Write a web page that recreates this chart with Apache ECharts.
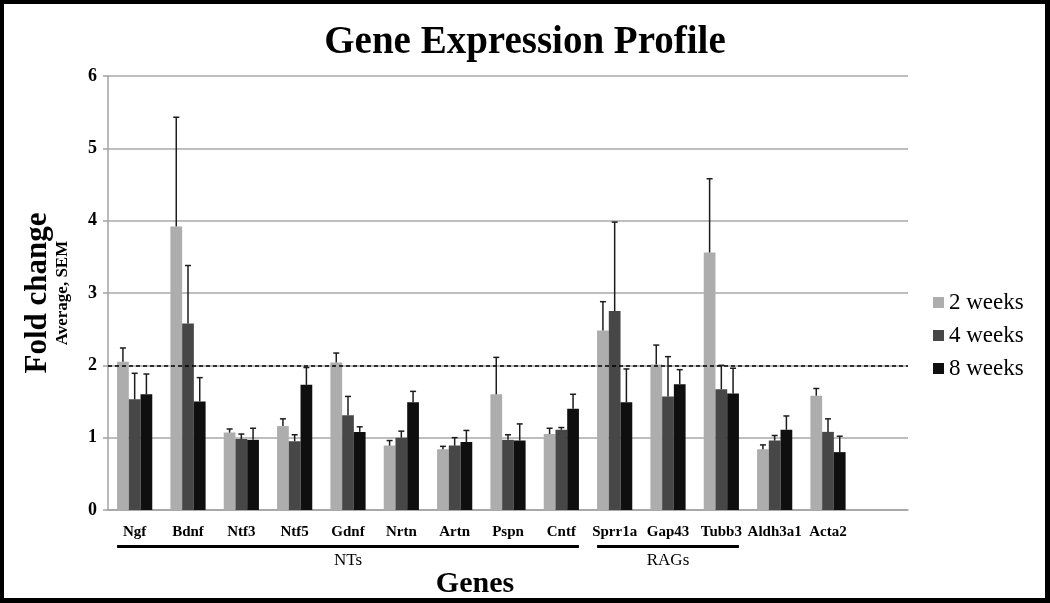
<!DOCTYPE html>
<html>
<head>
<meta charset="utf-8">
<title>Gene Expression Profile</title>
<script src="https://cdn.jsdelivr.net/npm/echarts@6.0.0/dist/echarts.min.js"></script>
<style>
  html, body { margin: 0; padding: 0; background: #fff; }
  #bar-chart { width: 1050px; height: 603px; }
</style>
</head>
<body>
<div id="bar-chart"></div>
<script>
// genes on the x axis
var genes = ['Ngf', 'Bdnf', 'Ntf3', 'Ntf5', 'Gdnf', 'Nrtn', 'Artn', 'Pspn', 'Cntf',
  'Sprr1a', 'Gap43', 'Tubb3', 'Aldh3a1', 'Acta2']
var seriesNames = ['2 weeks', '4 weeks', '8 weeks']
var yTicks = [0, 1, 2, 3, 4, 5, 6]

// fold change averages
var week2 = [2.05, 3.92, 1.07, 1.16, 2.04, 0.89, 0.84, 1.60, 1.05, 2.48, 2.01, 3.56, 0.84, 1.58]
var week4 = [1.53, 2.58, 0.98, 0.95, 1.31, 1.00, 0.89, 0.97, 1.11, 2.75, 1.57, 1.67, 0.96, 1.08]
var week8 = [1.60, 1.50, 0.97, 1.73, 1.08, 1.49, 0.94, 0.96, 1.40, 1.49, 1.74, 1.61, 1.11, 0.80]

// SEM (upper error bar only)
var sem2 = [0.19, 1.51, 0.05, 0.10, 0.13, 0.07, 0.04, 0.51, 0.08, 0.40, 0.27, 1.02, 0.06, 0.10]
var sem4 = [0.36, 0.80, 0.07, 0.09, 0.26, 0.09, 0.11, 0.07, 0.03, 1.23, 0.55, 0.33, 0.07, 0.18]
var sem8 = [0.28, 0.33, 0.16, 0.24, 0.07, 0.15, 0.16, 0.23, 0.20, 0.46, 0.20, 0.35, 0.19, 0.22]

// groups underlined below the labels
var groups = [
  { name: 'NTs', from: 'Ngf', to: 'Cntf' },
  { name: 'RAGs', from: 'Sprr1a', to: 'Tubb3' }
]

var colors = ['#adadad', '#474747', '#0f0f0f']
var serif = '"Liberation Serif", "Times New Roman", serif'
var gapRatio = 0.34

var chart = echarts.init(document.getElementById('bar-chart'))

function errorSeries(idx, values, sems) {
  return {
    type: 'custom',
    name: seriesNames[idx] + ' SEM',
    z: 5,
    silent: true,
    renderItem: function (params, api) {
      var cat = api.value(0)
      var val = api.value(1)
      var top = val + api.value(2)
      var bw = api.size([1, 0])[0] * (1 - gapRatio) / 3
      var p0 = api.coord([cat, val])
      var p1 = api.coord([cat, top])
      var x = p0[0] + (idx - 1) * bw
      var style = { stroke: '#1c1c1c', lineWidth: 1.5 }
      return {
        type: 'group',
        children: [
          { type: 'line', shape: { x1: x, y1: p0[1], x2: x, y2: p1[1] }, style: style },
          { type: 'line', shape: { x1: x - 3, y1: p1[1], x2: x + 3, y2: p1[1] }, style: style }
        ]
      }
    },
    data: values.map(function (v, i) { return [i, v, sems[i]] })
  }
}

function barSeries(idx, values) {
  var s = {
    type: 'bar',
    name: seriesNames[idx],
    barGap: 0,
    barCategoryGap: (gapRatio * 100) + '%',
    itemStyle: { color: colors[idx] },
    data: values
  }
  if (idx === 0) {
    s.markLine = {
      silent: true,
      symbol: ['none', 'none'],
      label: { show: false },
      lineStyle: { color: '#000', type: [4, 3], width: 1.5 },
      data: [{ yAxis: 2 }]
    }
  }
  return s
}

chart.setOption({
  animation: false,
  title: {
    text: 'Gene Expression Profile',
    left: 'center',
    top: 18,
    textStyle: { fontFamily: serif, fontWeight: 'bold', fontSize: 39, color: '#000' }
  },
  legend: {
    data: seriesNames,
    orient: 'vertical',
    left: 928,
    top: 286,
    icon: 'rect',
    itemWidth: 11,
    itemHeight: 11,
    itemGap: 10,
    textStyle: { fontFamily: serif, fontSize: 23, color: '#000' }
  },
  grid: { left: 108, right: 142, top: 76, bottom: 93 },
  xAxis: {
    type: 'category',
    // one empty slot keeps the gap at the right of the plot
    data: genes.concat(['']),
    axisTick: { show: false },
    axisLine: { lineStyle: { color: '#a3a3a3', width: 1.5 } },
    axisLabel: {
      interval: 0,
      margin: 15,
      fontFamily: serif,
      fontWeight: 'bold',
      fontSize: 15,
      color: '#000'
    }
  },
  yAxis: {
    type: 'value',
    min: yTicks[0],
    max: yTicks[yTicks.length - 1],
    interval: 1,
    name: '{a|Fold change}\n{b|Average, SEM}',
    nameLocation: 'middle',
    nameGap: 36,
    nameTextStyle: {
      rich: {
        a: { fontFamily: serif, fontWeight: 'bold', fontSize: 31, lineHeight: 32, color: '#000' },
        b: { fontFamily: serif, fontWeight: 'bold', fontSize: 17, lineHeight: 18, color: '#000' }
      }
    },
    axisLine: { show: true, lineStyle: { color: '#a3a3a3', width: 1.5 } },
    axisTick: { show: true, length: 5, lineStyle: { color: '#a3a3a3', width: 1.5 } },
    splitLine: { lineStyle: { color: '#a8a8a8', width: 1.5 } },
    axisLabel: {
      margin: 11,
      fontFamily: serif,
      fontWeight: 'bold',
      fontSize: 18,
      color: '#000'
    }
  },
  series: [
    barSeries(0, week2),
    barSeries(1, week4),
    barSeries(2, week8),
    errorSeries(0, week2, sem2),
    errorSeries(1, week4, sem4),
    errorSeries(2, week8, sem8)
  ]
})

// underlines for gene groups, axis name and frame
function drawExtras() {
  var x0 = chart.convertToPixel({ xAxisIndex: 0 }, genes[0])
  var x1 = chart.convertToPixel({ xAxisIndex: 0 }, genes[1])
  var half = (x1 - x0) * (1 - gapRatio) / 2
  var elements = []
  groups.forEach(function (g, i) {
    var a = chart.convertToPixel({ xAxisIndex: 0 }, g.from) - half
    var b = chart.convertToPixel({ xAxisIndex: 0 }, g.to) + half
    elements.push({
      type: 'rect', id: 'line' + i, silent: true,
      shape: { x: a, y: 545, width: b - a, height: 3 },
      style: { fill: '#000' }
    })
    elements.push({
      type: 'text', id: 'grp' + i, silent: true,
      x: (a + b) / 2, y: 561,
      style: {
        text: g.name, fontFamily: serif, fontSize: 17, fill: '#000',
        align: 'center', verticalAlign: 'middle'
      }
    })
  })
  elements.push({
    type: 'text', id: 'genes', silent: true,
    x: 475, y: 584,
    style: {
      text: 'Genes', fontFamily: serif, fontWeight: 'bold', fontSize: 30, fill: '#000',
      align: 'center', verticalAlign: 'middle'
    }
  })
  // black frame
  elements.push({ type: 'rect', id: 'fT', shape: { x: 0, y: 0, width: 1050, height: 4 }, style: { fill: '#000' } })
  elements.push({ type: 'rect', id: 'fB', shape: { x: 0, y: 598, width: 1050, height: 5 }, style: { fill: '#000' } })
  elements.push({ type: 'rect', id: 'fL', shape: { x: 0, y: 0, width: 4, height: 603 }, style: { fill: '#000' } })
  elements.push({ type: 'rect', id: 'fR', shape: { x: 1045, y: 0, width: 5, height: 603 }, style: { fill: '#000' } })
  chart.setOption({ graphic: elements })
}
drawExtras()
</script>
</body>
</html>
